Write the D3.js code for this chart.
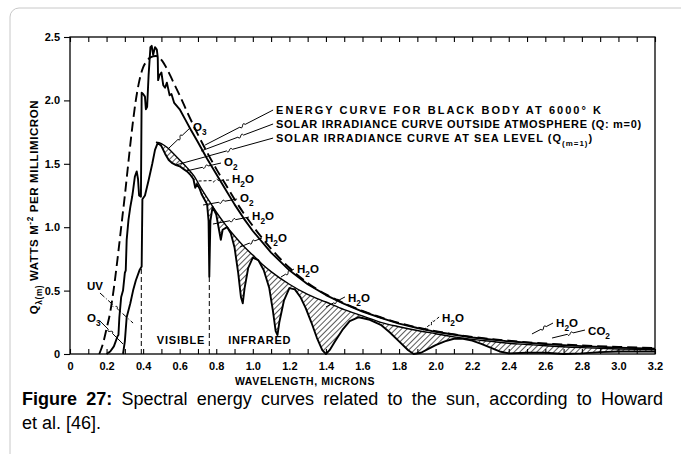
<!DOCTYPE html>
<html><head><meta charset="utf-8">
<script src="https://cdn.jsdelivr.net/npm/d3@7"></script>
<style>
body{margin:0;background:#fff;}
svg{display:block;}
text{font-family:"Liberation Sans",Arial,sans-serif;}
</style>
</head><body>
<svg id="c" width="681" height="454"></svg>
<script>
// ---------- DATA (wavelength in microns, Q in W m^-2 per millimicron) ----------
const blackBody6000 = [[0.16,0],[0.18,0.08],[0.20,0.20],[0.22,0.33],[0.24,0.52],[0.26,0.75],[0.28,1.0],[0.30,1.25],[0.32,1.52],[0.34,1.78],[0.36,2.0],[0.38,2.16],[0.40,2.26],[0.42,2.31],[0.44,2.34],[0.47,2.35],[0.50,2.32],[0.53,2.25],[0.56,2.16],[0.60,2.04],[0.65,1.88],[0.70,1.73],[0.75,1.59],[0.80,1.46],[0.85,1.34],[0.90,1.22],[0.95,1.11],[1.0,1.01],[1.1,0.83],[1.2,0.68],[1.3,0.56],[1.4,0.47],[1.5,0.40],[1.6,0.34],[1.8,0.245],[2.0,0.18],[2.2,0.135],[2.4,0.105],[2.6,0.083],[2.8,0.067],[3.0,0.056],[3.2,0.047]];

const outsideAtmosphere = [[0.20,0],[0.22,0.02],[0.24,0.06],[0.25,0.10],[0.26,0.14],[0.265,0.15],[0.27,0.29],[0.28,0.45],[0.29,0.50],[0.30,0.64],[0.305,0.66],[0.31,0.90],[0.32,1.06],[0.33,1.16],[0.34,1.24],[0.345,1.29],[0.355,1.40],[0.365,1.44],[0.372,1.38],[0.378,1.25],[0.388,1.24],[0.392,2.06],[0.40,2.05],[0.41,2.03],[0.415,1.93],[0.422,1.95],[0.43,2.20],[0.44,2.42],[0.447,2.43],[0.455,2.36],[0.465,2.42],[0.475,2.40],[0.48,2.34],[0.482,2.16],[0.49,2.20],[0.50,2.22],[0.51,2.12],[0.52,2.10],[0.53,2.14],[0.545,2.04],[0.555,2.05],[0.57,1.98],[0.60,1.93],[0.63,1.85],[0.66,1.77],[0.70,1.67],[0.75,1.54],[0.80,1.42],[0.85,1.30],[0.90,1.18],[0.95,1.07],[1.0,0.97],[1.1,0.80],[1.2,0.66],[1.3,0.55],[1.4,0.465],[1.5,0.395],[1.6,0.335],[1.7,0.285],[1.8,0.24],[1.9,0.205],[2.0,0.175],[2.2,0.13],[2.4,0.10],[2.6,0.078],[2.8,0.062],[3.0,0.05],[3.2,0.042]];

const seaLevelEnvelope = [[0.47,1.67],[0.50,1.66],[0.53,1.63],[0.56,1.59],[0.60,1.53],[0.64,1.47],[0.68,1.40],[0.72,1.30],[0.76,1.21],[0.80,1.12],[0.85,1.02],[0.90,0.93],[0.95,0.85],[1.0,0.78],[1.05,0.71],[1.1,0.65],[1.2,0.55],[1.3,0.47],[1.4,0.41],[1.5,0.35],[1.6,0.30],[1.7,0.25],[1.8,0.215],[1.9,0.185],[2.0,0.16],[2.1,0.135],[2.2,0.115],[2.3,0.10],[2.4,0.085],[2.5,0.075],[2.6,0.065],[2.8,0.05],[3.0,0.04],[3.2,0.035]];

const seaLevel = [[0.29,0],[0.30,0.10],[0.31,0.29],[0.33,0.40],[0.345,0.50],[0.36,0.58],[0.38,0.66],[0.392,0.69],[0.396,1.22],[0.41,1.25],[0.43,1.37],[0.45,1.50],[0.465,1.61],[0.48,1.665],[0.50,1.64],[0.52,1.58],[0.54,1.53],[0.56,1.505],[0.58,1.49],[0.60,1.48],[0.62,1.46],[0.64,1.44],[0.66,1.41],[0.675,1.38],[0.685,1.31],[0.695,1.34],[0.71,1.30],[0.72,1.26],[0.735,1.22],[0.75,1.18],[0.758,1.05],[0.762,0.61],[0.768,1.05],[0.78,1.16],[0.80,1.10],[0.815,0.98],[0.825,0.90],[0.835,0.98],[0.86,1.00],[0.88,0.95],[0.90,0.84],[0.92,0.64],[0.935,0.45],[0.945,0.40],[0.955,0.52],[0.975,0.68],[1.0,0.76],[1.03,0.74],[1.06,0.66],[1.09,0.52],[1.11,0.34],[1.125,0.18],[1.135,0.15],[1.145,0.25],[1.17,0.42],[1.2,0.52],[1.23,0.51],[1.26,0.45],[1.29,0.36],[1.32,0.25],[1.35,0.13],[1.38,0.03],[1.40,0.0],[1.42,0.03],[1.45,0.10],[1.49,0.19],[1.53,0.26],[1.58,0.29],[1.64,0.27],[1.70,0.23],[1.75,0.17],[1.80,0.10],[1.85,0.03],[1.88,0.0],[1.92,0.01],[1.96,0.04],[2.00,0.07],[2.05,0.10],[2.10,0.12],[2.15,0.12],[2.20,0.105],[2.25,0.08],[2.30,0.05],[2.35,0.02],[2.40,0.005],[2.50,0.01],[2.60,0.01],[2.70,0.0],[2.80,0.005],[2.90,0.015],[3.0,0.02],[3.1,0.02],[3.2,0.02]];

const xTickLabels = ["0","0.2","0.4","0.6","0.8","1.0","1.2","1.4","1.6","1.8","2.0","2.2","2.4","2.6","2.8","3.0","3.2"];
const yTickLabels = ["0","0.5","1.0","1.5","2.0","2.5"];

// region boundaries (wavelength, top value of dashed marker)
const regionBounds = [[0.39,0.69],[0.762,0.61]];
const regionNames = [["VISIBLE",0.475],["INFRARED",0.865]];

// annotations: text, [text x,y], [leader from], [leader to], style
const curveLabels = [
  ["ENERGY CURVE FOR BLACK BODY AT 6000° K",[1.127,1.893],[1.111,1.924],[0.739,1.648],325],
  ["SOLAR IRRADIANCE CURVE OUTSIDE ATMOSPHERE (Q: m=0)",[1.127,1.782],[1.111,1.814],[0.717,1.601],365],
  ["SOLAR IRRADIANCE CURVE AT SEA LEVEL (Q{(m=1)})",[1.127,1.672],[1.111,1.703],[0.580,1.491],316]
];
const absorptionLabels = [
  ["O{3}",[0.673,1.759],[0.656,1.782],[0.536,1.617],"solid"],
  ["O{2}",[0.842,1.483],[0.826,1.506],[0.635,1.443],"solid"],
  ["H{2}O",[0.886,1.349],[0.870,1.372],[0.700,1.364],"dot"],
  ["O{2}",[0.930,1.199],[0.914,1.222],[0.728,1.175],"solid"],
  ["H{2}O",[0.996,1.057],[0.979,1.080],[0.782,1.025],"solid"],
  ["H{2}O",[1.067,0.883],[1.050,0.915],[0.930,0.844],"solid"],
  ["H{2}O",[1.242,0.639],[1.225,0.670],[1.154,0.607],"solid"],
  ["H{2}O",[1.521,0.410],[1.504,0.450],[1.400,0.371],"solid"],
  ["H{2}O",[2.035,0.252],[2.019,0.292],[1.926,0.181],"dot"],
  ["H{2}O",[2.659,0.213],[2.642,0.244],[2.527,0.158],"solid"],
  ["CO{2}",[2.834,0.150],[2.817,0.189],[2.637,0.126],"solid"],
  ["UV",[0.093,0.505],[0.164,0.481],[0.345,0.244],"dashdot"],
  ["O{3}",[0.093,0.252],[0.164,0.260],[0.290,0.079],"solid"]
];

// ---------- DRAW ----------
const svg = d3.select("#c");
svg.append("rect").attr("x",10).attr("y",8).attr("width",720).attr("height",480)
  .attr("rx",9).attr("fill","none").attr("stroke","#c8c8c8").attr("stroke-width",1);

const xS = d3.scaleLinear().domain([0,3.2]).range([70,655]);
const yS = d3.scaleLinear().domain([0,2.5]).range([354,37]);

const defs = svg.append("defs");
const pat = defs.append("pattern").attr("id","hatch").attr("width",4).attr("height",4)
  .attr("patternUnits","userSpaceOnUse").attr("patternTransform","rotate(45)");
pat.append("line").attr("x1",0).attr("y1",0).attr("x2",0).attr("y2",4)
  .attr("stroke","#000").attr("stroke-width",1.3);

const lin = d3.line().x(d=>xS(d[0])).y(d=>yS(d[1]));
const smooth = d3.line().x(d=>xS(d[0])).y(d=>yS(d[1])).curve(d3.curveMonotoneX);

// hatched absorption areas
const seaPart = seaLevel.filter(d=>d[0]>=seaLevelEnvelope[0][0]).reverse();
const hatchPath = smooth(seaLevelEnvelope) + "L" + lin(seaPart).slice(1) + "Z";
svg.append("path").attr("d",hatchPath).attr("fill","url(#hatch)").attr("stroke","none");

// region boundaries
svg.selectAll(".rb").data(regionBounds).join("line")
  .attr("x1",d=>xS(d[0])).attr("x2",d=>xS(d[0])).attr("y1",yS(0)).attr("y2",d=>yS(d[1]))
  .attr("stroke","#000").attr("stroke-width",1).attr("stroke-dasharray","5,3");

// curves
svg.append("path").attr("d",smooth(seaLevelEnvelope)).attr("fill","none").attr("stroke","#000").attr("stroke-width",1.4);
svg.append("path").attr("d",lin(seaLevel)).attr("fill","none").attr("stroke","#000").attr("stroke-width",1.9).attr("stroke-linejoin","round");
svg.append("path").attr("d",lin(outsideAtmosphere)).attr("fill","none").attr("stroke","#000").attr("stroke-width",1.9).attr("stroke-linejoin","round");
svg.append("path").attr("d",smooth(blackBody6000)).attr("fill","none").attr("stroke","#000").attr("stroke-width",1.9).attr("stroke-dasharray","10,5");

// axes
const minor = d3.range(0,33).map(i=>i/10);
const gBottom = svg.append("g").attr("transform",`translate(0,${yS(0)})`)
  .call(d3.axisBottom(xS).tickValues(minor).tickSize(-5).tickPadding(10)
    .tickFormat((d,i)=> i%2===0 ? xTickLabels[i/2] : ""));
const gTop = svg.append("g").attr("transform",`translate(0,${yS(2.5)})`)
  .call(d3.axisTop(xS).tickValues(minor).tickSize(-5).tickFormat(""));
const yVals = [0,0.5,1,1.5,2,2.5];
const gLeft = svg.append("g").attr("transform",`translate(${xS(0)},0)`)
  .call(d3.axisLeft(yS).tickValues(yVals).tickSize(6).tickPadding(4).tickFormat((d,i)=>yTickLabels[i]));
[gBottom,gTop,gLeft].forEach(g=>{
  g.select(".domain").remove();
  g.selectAll("line").attr("stroke","#000").attr("stroke-width",1.1);
  g.selectAll("text").attr("font-size",11).attr("font-weight","bold").attr("fill","#000")
   .style("font-family","'Liberation Sans',Arial,sans-serif");
});
gBottom.selectAll("text").attr("dy","0.5em");
svg.append("rect").attr("x",xS(0)).attr("y",yS(2.5)).attr("width",xS(3.2)-xS(0)).attr("height",yS(0)-yS(2.5))
  .attr("fill","none").attr("stroke","#000").attr("stroke-width",1.3);

// rich text helper: {..} subscript, ^{..} superscript
function rich(sel, str, size){
  const re = /(\^\{[^}]*\}|\{[^}]*\}|[^{^]+)/g;
  let m, shift = 0;
  while((m = re.exec(str))){
    let s = m[0], target = 0, fs = size;
    if(s.startsWith("^{")){ s = s.slice(2,-1); target = -size*0.4; fs = size*0.72; }
    else if(s.startsWith("{")){ s = s.slice(1,-1); target = size*0.32; fs = size*0.72; }
    sel.append("tspan").attr("dy", target-shift).attr("font-size",fs).text(s);
    shift = target;
  }
  return sel;
}

function squiggle(x1,y1,x2,y2){
  const dx=x2-x1, dy=y2-y1, L=Math.hypot(dx,dy), ux=dx/L, uy=dy/L, nx=-uy, ny=ux;
  const t = 0.45;
  const mx=x1+dx*t, my=y1+dy*t;
  const ax=mx-ux*3, ay=my-uy*3, bx=mx+ux*3, by=my+uy*3;
  return `M${x1},${y1}L${ax},${ay}C${ax+nx*5+ux*2},${ay+ny*5+uy*2} ${bx-nx*5-ux*2},${by-ny*5-uy*2} ${bx},${by}L${x2},${y2}`;
}

// curve labels
curveLabels.forEach(c=>{
  svg.append("path").attr("d",squiggle(xS(c[2][0]),yS(c[2][1]),xS(c[3][0]),yS(c[3][1])))
    .attr("fill","none").attr("stroke","#000").attr("stroke-width",1);
  const t = svg.append("text").attr("x",xS(c[1][0])).attr("y",yS(c[1][1]))
    .attr("font-size",11).attr("font-weight","bold").attr("fill","#000");
  rich(t,c[0],11);
  const w = t.node().getComputedTextLength();
  const n = t.text().length;
  t.attr("letter-spacing",((c[4]-w)/(n-1)).toFixed(2));
});

absorptionLabels.forEach(c=>{
  const p = svg.append("path").attr("d",squiggle(xS(c[2][0]),yS(c[2][1]),xS(c[3][0]),yS(c[3][1])))
    .attr("fill","none").attr("stroke","#000").attr("stroke-width",1);
  if(c[4]==="dot") p.attr("stroke-dasharray","3,2");
  if(c[4]==="dashdot") p.attr("stroke-dasharray","6,2,1,2");
  const t = svg.append("text").attr("x",xS(c[1][0])).attr("y",yS(c[1][1]))
    .attr("font-size",11.5).attr("font-weight","bold").attr("fill","#000");
  rich(t,c[0],11.5);
});

regionNames.forEach(r=>{
  svg.append("text").attr("x",xS(r[1])).attr("y",yS(0.08)).attr("font-size",11).attr("font-weight","bold")
    .attr("letter-spacing",0.8).text(r[0]);
});

// axis titles
svg.append("text").attr("x",305).attr("y",385).attr("text-anchor","middle").attr("font-size",10.5)
  .attr("font-weight","bold").attr("letter-spacing",0.6).text("WAVELENGTH,  MICRONS");
const yt = svg.append("text").attr("transform","translate(38,207) rotate(-90)").attr("text-anchor","middle")
  .attr("font-size",11.5).attr("font-weight","bold").attr("letter-spacing",0.6);
rich(yt,"Q{λ(m)} WATTS M^{-2} PER MILLIMICRON",11.5);

// caption
const cap1 = svg.append("text").attr("x",22).attr("y",405).attr("font-size",18).attr("fill","#000");
cap1.append("tspan").attr("font-weight","bold").text("Figure 27:");
cap1.append("tspan").text(" Spectral energy curves related to the sun, according to Howard");
const cw = cap1.node().getComputedTextLength();
cap1.attr("word-spacing",((663-22-cw)/11).toFixed(2));
svg.append("text").attr("x",22).attr("y",429).attr("font-size",18).attr("fill","#000").text("et al. [46].");
</script>
</body></html>
